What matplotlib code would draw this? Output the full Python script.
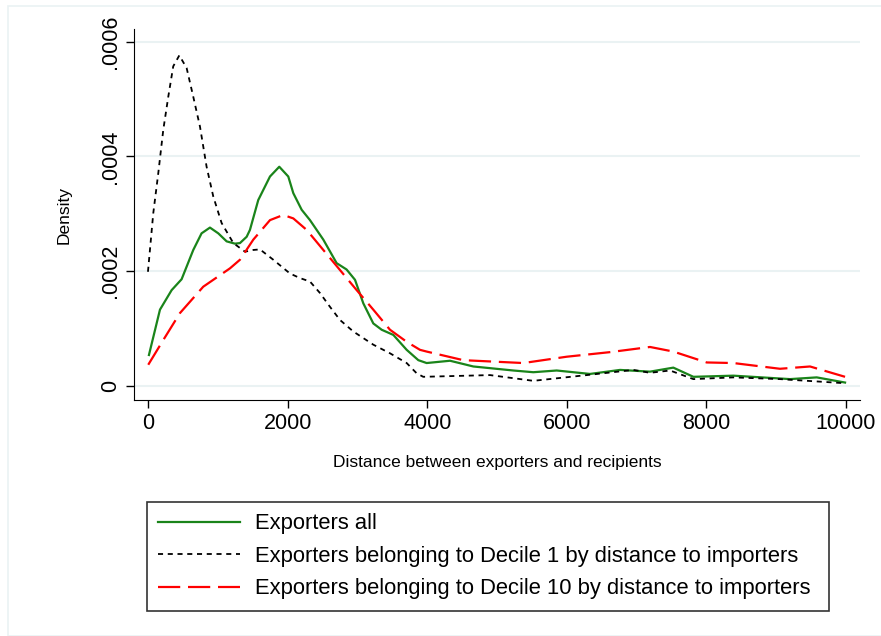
import numpy as np
import matplotlib
matplotlib.use("Agg")
import matplotlib.pyplot as plt

plt.rcParams['font.family'] = ['Liberation Sans', 'DejaVu Sans']

# kernel density curves (distance, density x 1e-6)
all_x = [14, 172, 339, 482, 649, 768, 888, 1007, 1127, 1246, 1318, 1414, 1461, 1580, 1748,
         1881, 2010, 2082, 2202, 2321, 2512, 2703, 2845, 2966, 3085, 3228, 3348, 3515,
         3706, 3873, 3992, 4327, 4661, 5234, 5520, 5855, 6332, 6762, 7192, 7526, 7813,
         8386, 9198, 9580, 9986]
all_y = [54, 133, 167, 186, 237, 266, 276, 266, 252, 248, 249, 260, 272, 324, 365,
         382, 365, 336, 307, 289, 255, 214, 203, 185, 144, 109, 98, 89,
         63, 45, 40, 44, 34, 27, 24, 27, 21, 28, 25, 32, 16,
         18, 12, 15, 6]

d1_x = [0, 76, 148, 219, 291, 362, 449, 554, 649, 745, 840, 936, 1055, 1223, 1390, 1509,
        1605, 1795, 2034, 2178, 2321, 2464, 2607, 2751, 2941, 3228, 3467, 3706, 3850,
        3944, 4900, 5520, 6285, 6953, 7192, 7479, 7813, 8386, 9054, 9962]
d1_y = [199, 301, 371, 446, 504, 557, 576, 554, 504, 452, 382, 330, 284, 249, 234, 237,
        238, 220, 196, 188, 182, 162, 138, 115, 95, 72, 57, 40, 22,
        16, 19, 9, 19, 28, 23, 27, 12, 15, 12, 5]

d10_x = [4, 219, 458, 792, 1175, 1318, 1509, 1748, 1938, 2082, 2273, 2512, 2751, 2990,
         3228, 3467, 3706, 3897, 3992, 4517, 5377, 5998, 6619, 7192, 7526, 8004, 8386,
         9054, 9484, 9986]
d10_y = [37, 80, 127, 173, 205, 220, 255, 289, 298, 292, 272, 237, 202, 167,
         133, 98, 77, 63, 60, 45, 40, 51, 59, 68, 60, 41, 40,
         30, 34, 16]

labels = ["Exporters all",
          "Exporters belonging to Decile 1 by distance to importers",
          "Exporters belonging to Decile 10 by distance to importers"]

scale = 1e-6
fig = plt.figure(figsize=(8.81, 6.36), dpi=100)
ax = fig.add_axes([134/881, 1-400/636, (860-134)/881, (400-29)/636])

ax.plot(all_x, np.array(all_y)*scale, color='#1a841a', lw=1.6, label=labels[0])
ax.plot(d1_x, np.array(d1_y)*scale, color='black', lw=1.3, ls=(0, (2.8, 2.6)), label=labels[1])
ax.plot(d10_x, np.array(d10_y)*scale, color='#ff0000', lw=1.6, ls=(0, (10, 3.5)), label=labels[2])

ax.set_xlim(-200, 10200)
ax.set_ylim(-0.0000244, 0.000622)
ax.set_xticks([0, 2000, 4000, 6000, 8000, 10000])
ax.set_yticks([0, 0.0002, 0.0004, 0.0006])
ax.set_yticklabels(['0', '.0002', '.0004', '.0006'], rotation=90, va='center')
ax.tick_params(labelsize=15.5, length=6, width=1, color='black')
ax.grid(axis='y', color='#eaf2f3', lw=1.5)
ax.set_axisbelow(True)
for s in ['top', 'right']:
    ax.spines[s].set_visible(False)
ax.set_xlabel("Distance between exporters and recipients", fontsize=12.5, labelpad=15)
ax.set_ylabel("Density", fontsize=12.5, labelpad=20)

leg = ax.legend(loc='upper left', bbox_to_anchor=(147/881, 1-608/636, (829-147)/881, (608-502)/636),
                bbox_transform=fig.transFigure, mode='expand', fontsize=15.8, handlelength=3.7,
                handletextpad=0.7, frameon=True, fancybox=False, edgecolor='black',
                borderaxespad=0, labelspacing=0.52, borderpad=0.52)
leg.get_frame().set_linewidth(1.2)

fig.patches.append(plt.Rectangle((8/881, 0), 1, 1-6/636, transform=fig.transFigure,
                                 fill=False, edgecolor='#eaf2f3', lw=1.2))
fig.savefig("out.png", dpi=100)
